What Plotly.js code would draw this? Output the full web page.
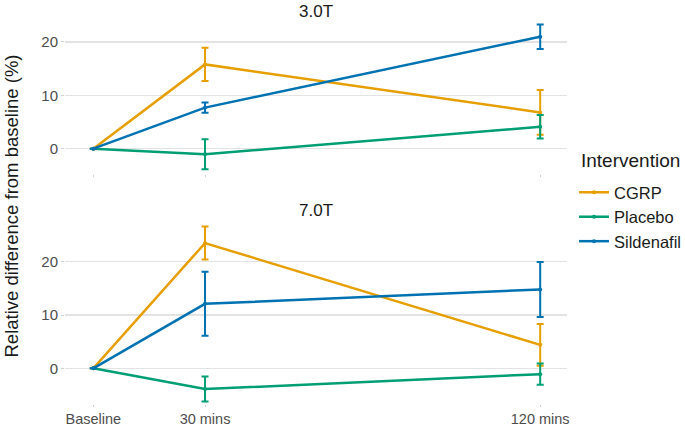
<!DOCTYPE html>
<html><head><meta charset="utf-8">
<script src="https://cdn.plot.ly/plotly-3.0.1.min.js"></script>
<style>body{margin:0;background:#fff}#chart{width:685px;height:428px}</style>
</head><body><div id="chart"></div>
<script>
const timePoints = [0, 30, 120];
const tickLabels = ["Baseline", "30 mins", "120 mins"];
const groups = ["CGRP", "Placebo", "Sildenafil"];
const colors = ["#E69F00", "#009E73", "#0072B2"];
// 3.0T
const mean3T = {CGRP: [0, 15.8, 6.8], Placebo: [0, -1.05, 4.1], Sildenafil: [0, 7.7, 21.0]};
const err3T  = {CGRP: [0, 3.1, 4.2], Placebo: [0, 2.8, 2.2], Sildenafil: [0, 0.95, 2.3]};
// 7.0T
const mean7T = {CGRP: [0, 23.5, 4.4], Placebo: [0, -3.9, -1.1], Sildenafil: [0, 12.1, 14.8]};
const err7T  = {CGRP: [0, 3.1, 3.9], Placebo: [0, 2.35, 2.0], Sildenafil: [0, 6.0, 5.15]};

const traces = [];
groups.forEach((g, i) => {
  traces.push({x: timePoints, y: mean3T[g], type: 'scatter', mode: 'lines+markers', name: g,
    legendgroup: g, showlegend: true, xaxis: 'x', yaxis: 'y',
    line: {color: colors[i], width: 2.5}, marker: {size: 4, color: colors[i]},
    error_y: {type: 'data', array: err3T[g], visible: true, color: colors[i], thickness: 2, width: 3.5}});
  traces.push({x: timePoints, y: mean7T[g], type: 'scatter', mode: 'lines+markers', name: g,
    legendgroup: g, showlegend: false, xaxis: 'x2', yaxis: 'y2',
    line: {color: colors[i], width: 2.5}, marker: {size: 4, color: colors[i]},
    error_y: {type: 'data', array: err7T[g], visible: true, color: colors[i], thickness: 2, width: 3.5}});
});

const font = {family: 'Liberation Sans, Arial, sans-serif'};
const xbase = {range: [-7.6, 127.2], tickvals: timePoints, ticktext: tickLabels, showgrid: false,
  zeroline: false, showline: false, ticks: 'outside', ticklen: 2, tickcolor: '#d0d0d0',
  tickfont: {size: 14.5, color: '#4d4d4d'}};
const ybase = {tickvals: [0, 10, 20], showgrid: true, gridcolor: '#e3e3e3', gridwidth: 1.2,
  zeroline: false, showline: false, ticks: 'outside', ticklen: 3, tickcolor: '#d0d0d0',
  tickfont: {size: 15, color: '#4d4d4d'}};

const layout = {
  width: 685, height: 428, font: font, paper_bgcolor: '#fff', plot_bgcolor: '#fff',
  margin: {l: 65, r: 118, t: 10, b: 24},
  showlegend: true,
  xaxis: Object.assign({}, xbase, {anchor: 'y', showticklabels: false, domain: [0, 1]}),
  yaxis: Object.assign({}, ybase, {range: [-4.75, 24.5], domain: [0.5838, 0.9797], anchor: 'x'}),
  xaxis2: Object.assign({}, xbase, {anchor: 'y2', domain: [0, 1]}),
  yaxis2: Object.assign({}, ybase, {range: [-6.7, 28.2], domain: [0, 0.472], anchor: 'x2'}),
  legend: {xref: 'container', yref: 'container', x: 0.838, xanchor: 'left', y: 0.591, yanchor: 'top',
    tracegroupgap: 0, font: {size: 16.5, color: '#1a1a1a'}, bgcolor: 'rgba(0,0,0,0)'},
  annotations: [
    {text: '3.0T', xref: 'paper', yref: 'paper', x: 0.5, y: 0.995, xanchor: 'center', yanchor: 'middle',
     showarrow: false, font: {size: 17, color: '#1a1a1a'}},
    {text: '7.0T', xref: 'paper', yref: 'paper', x: 0.5, y: 0.49, xanchor: 'center', yanchor: 'middle',
     showarrow: false, font: {size: 17, color: '#1a1a1a'}},
    {text: 'Intervention', xref: 'paper', yref: 'paper', x: 1.023, y: 0.619, xanchor: 'left', yanchor: 'middle',
     showarrow: false, font: {size: 19, color: '#1a1a1a'}},
    {text: 'Relative difference from baseline (%)', xref: 'paper', yref: 'paper', x: -0.1066, y: 0.5025,
     xanchor: 'center', yanchor: 'middle', textangle: -90, showarrow: false, font: {size: 18.5, color: '#1a1a1a'}}
  ]
};
Plotly.newPlot('chart', traces, layout, {displayModeBar: false, staticPlot: true});
</script></body></html>
